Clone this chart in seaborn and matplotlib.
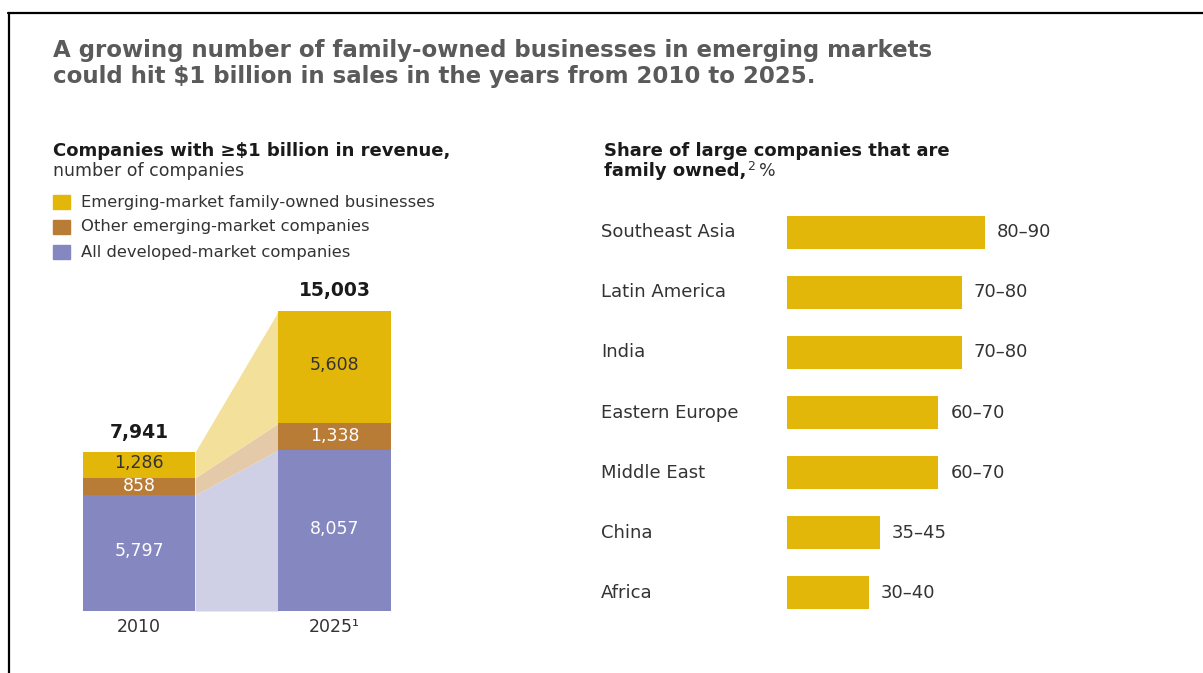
import matplotlib
matplotlib.use("Agg")
import matplotlib.pyplot as plt
import seaborn as sns
import pandas as pd
import numpy as np

# ---- data -------------------------------------------------------------
years = ["2010", "2025\u00b9"]
developed = [5797, 8057]          # All developed-market companies
other_em = [858, 1338]            # Other emerging-market companies
family_em = [1286, 5608]          # Emerging-market family-owned businesses
totals = [7941, 15003]

regions = ["Southeast Asia", "Latin America", "India", "Eastern Europe",
           "Middle East", "China", "Africa"]
share_low = [80, 70, 70, 60, 60, 35, 30]
share_high = [90, 80, 80, 70, 70, 45, 40]

legend_labels = ["Emerging-market family-owned businesses",
                 "Other emerging-market companies",
                 "All developed-market companies"]

# ---- style --------------------------------------------------------------
sns.set_theme(style="white")
plt.rcParams["font.family"] = ["DejaVu Sans"]

YELLOW = "#E3B60A"
BROWN = "#B97C37"
PURPLE = "#8487C0"
LIGHT_YELLOW = "#F3E09B"
LIGHT_BROWN = "#E4CAA8"
LIGHT_PURPLE = "#CFD0E6"
TEXT = "#333333"

W, H = 1203, 673
fig = plt.figure(figsize=(W / 100, H / 100), dpi=100)
fig.patch.set_facecolor("white")


def fx(px):
    return px / W


def fy(py):
    return 1 - py / H


# frame lines along the top and left edges
fig.add_artist(plt.Line2D([fx(8), 1.0], [fy(13), fy(13)], color="black", lw=1.6))
fig.add_artist(plt.Line2D([fx(9), fx(9)], [fy(13), 0.0], color="black", lw=1.6))

# headline
fig.text(fx(53), fy(51), "A growing number of family-owned businesses in emerging markets",
         fontsize=16.5, fontweight="bold", color="#5a5a5a", va="center", ha="left")
fig.text(fx(53), fy(76), "could hit $1 billion in sales in the years from 2010 to 2025.",
         fontsize=16.5, fontweight="bold", color="#5a5a5a", va="center", ha="left")

# left panel headings
fig.text(fx(53), fy(151), "Companies with \u2265$1 billion in revenue,",
         fontsize=13, fontweight="bold", color="#1a1a1a", va="center")
fig.text(fx(53), fy(171), "number of companies", fontsize=12.5, color=TEXT, va="center")

# legend
for i, (lab, col) in enumerate(zip(legend_labels, [YELLOW, BROWN, PURPLE])):
    yc = 202 + 25 * i
    fig.patches.append(plt.Rectangle((fx(53), fy(yc + 7)), fx(17), 14 / H,
                                     transform=fig.transFigure, color=col))
    fig.text(fx(81), fy(yc), lab, fontsize=11.8, color=TEXT, va="center")

# ---- stacked columns -------------------------------------------------------
scale = 0.02          # px per company
base_px = 611
top_px = 280
ax1 = fig.add_axes([fx(60), fy(base_px), fx(420 - 60), (base_px - top_px) / H])

cum1 = np.array(developed)
cum2 = cum1 + np.array(other_em)
cum3 = cum2 + np.array(family_em)

bar_w = 0.573
df = pd.DataFrame({"year": years, "total": cum3, "cum2": cum2, "dev": cum1})
sns.barplot(data=df, x="year", y="total", color=YELLOW, width=bar_w, saturation=1,
            ax=ax1, linewidth=0)
sns.barplot(data=df, x="year", y="cum2", color=BROWN, width=bar_w, saturation=1,
            ax=ax1, linewidth=0)
sns.barplot(data=df, x="year", y="dev", color=PURPLE, width=bar_w, saturation=1,
            ax=ax1, linewidth=0)

# connecting bands between the two columns
xa, xb = 0 + bar_w / 2, 1 - bar_w / 2
ax1.fill_between([xa, xb], [0, 0], cum1, color=LIGHT_PURPLE, lw=0, zorder=0.5)
ax1.fill_between([xa, xb], cum1, cum2, color=LIGHT_BROWN, lw=0, zorder=0.5)
ax1.fill_between([xa, xb], cum2, cum3, color=LIGHT_YELLOW, lw=0, zorder=0.5)

for i in range(2):
    ax1.text(i, developed[i] / 2 + 80, f"{developed[i]:,}", ha="center", va="center",
             color="white", fontsize=12.5)
    ax1.text(i, cum1[i] + other_em[i] / 2, f"{other_em[i]:,}", ha="center", va="center",
             color="white", fontsize=12.5)
    ax1.text(i, cum2[i] + family_em[i] / 2 + 80, f"{family_em[i]:,}", ha="center",
             va="center", color=TEXT, fontsize=12.5)
    ax1.text(i, totals[i] + 1000, f"{totals[i]:,}", ha="center", va="center",
             color="#1a1a1a", fontsize=13.5, fontweight="bold")

ax1.set_xlim((60 - 139) / 195.5, (420 - 139) / 195.5)
ax1.set_ylim(0, (base_px - top_px) / scale)
ax1.set_xlabel("")
ax1.set_ylabel("")
ax1.set_yticks([])
ax1.tick_params(axis="x", length=0, pad=5, labelsize=12.5, labelcolor=TEXT)
sns.despine(ax=ax1, left=True, bottom=True)

# ---- horizontal bars --------------------------------------------------------
fig.text(fx(604), fy(151), "Share of large companies that are",
         fontsize=13, fontweight="bold", color="#1a1a1a", va="center")
t = fig.text(fx(604), fy(171), "family owned,", fontsize=13, fontweight="bold",
             color="#1a1a1a", va="center")
fig.canvas.draw()
bb = t.get_window_extent()
fig.text(bb.x1 / W + fx(1), fy(166), "2", fontsize=9, color=TEXT, va="center")
fig.text(bb.x1 / W + fx(13), fy(171), "%", fontsize=12.5, color=TEXT, va="center")

mid = [(a + b) / 2 for a, b in zip(share_low, share_high)]
px_per_pt = 198 / 85
ax2_left, ax2_right = 787, 1150
ax2 = fig.add_axes([fx(ax2_left), fy(623), fx(ax2_right - ax2_left), (623 - 202) / H])
df2 = pd.DataFrame({"region": regions, "share": mid})
sns.barplot(data=df2, y="region", x="share", color=YELLOW, saturation=1, width=0.55,
            orient="h", ax=ax2, linewidth=0)
for i, (lo, hi, m) in enumerate(zip(share_low, share_high, mid)):
    ax2.text(m + 12 / px_per_pt, i, f"{lo}\u2013{hi}", va="center", ha="left",
             fontsize=13, color=TEXT)
ax2.set_xlim(0, (ax2_right - ax2_left) / px_per_pt)
ax2.set_ylim(6.5, -0.5)
ax2.set_xlabel("")
ax2.set_ylabel("")
ax2.set_xticks([])
ax2.tick_params(axis="y", length=0, pad=(787 - 601) * 0.72, labelsize=13,
                labelcolor=TEXT)
for lab in ax2.get_yticklabels():
    lab.set_horizontalalignment("left")
    lab.set_verticalalignment("center")
sns.despine(ax=ax2, left=True, bottom=True)

fig.savefig("out.png", dpi=100, facecolor="white")
